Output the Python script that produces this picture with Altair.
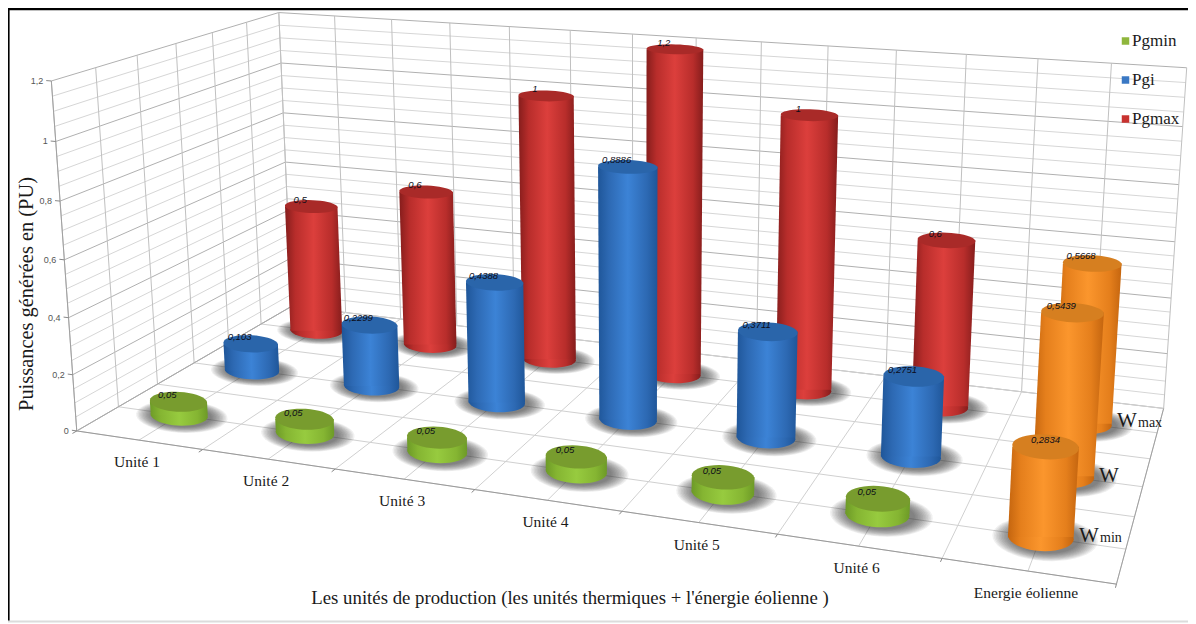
import math
import numpy as np
import pandas as pd
import altair as alt

categories = ["Unité 1", "Unité 2", "Unité 3", "Unité 4", "Unité 5", "Unité 6", "Energie éolienne"]
pgmin = [0.05, 0.05, 0.05, 0.05, 0.05, 0.05]
pgi = [0.103, 0.2299, 0.4388, 0.8886, 0.3711, 0.2751]
pgmax = [0.5, 0.6, 1.0, 1.2, 1.0, 0.6]
wind = [0.2834, 0.5439, 0.5668]
y_ticks = [0, 0.2, 0.4, 0.6, 0.8, 1, 1.2]
y_labels = ["0", "0,2", "0,4", "0,6", "0,8", "1", "1,2"]
legend_names = ["Pgmin", "Pgi", "Pgmax"]
legend_colors = ["#8fb63c", "#3a78c4", "#c8322f"]

# ---------- camera: box corners in chart space -> page pixels
ref_3d = [(0,0,0),(1,0,0),(2,0,0),(3,0,0),(4,0,0),(5,0,0),(6,0,0),(7,0,0),(7,3,0),(0,3,0),
          (0,0,1.2),(0,3,1.2),(7,3,1.2)]
ref_2d = [(77,431),(202,450),(336,471),(475,490),(622,511),(777,534),(942,557),(1116,585),(1164,408),(292,305),
          (52,79),(278,14),(1187,68)]
A, b = [], []
for (X_,Y_,Z_),(px,py) in zip(ref_3d, ref_2d):
    A.append([X_,Y_,Z_,1,0,0,0,0,-px*X_,-px*Y_,-px*Z_]); b.append(px)
    A.append([0,0,0,0,X_,Y_,Z_,1,-py*X_,-py*Y_,-py*Z_]); b.append(py)
sol = np.linalg.lstsq(np.array(A,float), np.array(b,float), rcond=None)[0]
P = np.append(sol,1.0).reshape(3,4)
def proj(u,v,z):
    q = P @ np.array([u,v,z,1.0])
    return float(q[0]/q[2]), float(q[1]/q[2])

XS = alt.Scale(domain=[8,1188], nice=False, zero=False)
YS = alt.Scale(domain=[624,8], nice=False, zero=False)
X = lambda f="x": alt.X(f"{f}:Q", scale=XS, axis=None)
Y = lambda f="y": alt.Y(f"{f}:Q", scale=YS, axis=None)

layers = []

frame = pd.DataFrame([
    dict(x=8,y=9,x2=1188,y2=9,c="#000000",w=2.4),
    dict(x=8.4,y=9,x2=8.4,y2=622,c="#000000",w=2.4),
    dict(x=8,y=621.5,x2=1188,y2=621.5,c="#dcdcdc",w=2),
])
def rules(df):
    return alt.Chart(df).mark_rule().encode(x=X(), y=Y(), x2=alt.X2("x2:Q"), y2=alt.Y2("y2:Q"),
        color=alt.Color("c:N", scale=None), strokeWidth=alt.StrokeWidth("w:Q", scale=None))

# ---------- grid
seg = []
def add(a,b,c,w=1):
    p,q = proj(*a),proj(*b)
    seg.append(dict(x=p[0],y=p[1],x2=q[0],y2=q[1],c=c,w=w))
MINOR,MAJOR,FLOOR = "#d6d6d6","#b0b0b0","#d0d0d0"
for k in range(0,25):
    z = k*0.05
    c = MAJOR if k%4==0 else MINOR
    add((0,0,z),(0,3,z),c); add((0,3,z),(7,3,z),c)
for k in range(0,15):
    u = k/2
    add((u,3,0),(u,3,1.2),"#c0c0c0"); add((u,0,0),(u,3,0),FLOOR)
for k in range(0,7):
    v = k/2
    add((0,v,0),(0,v,1.2),"#c0c0c0"); add((0,v,0),(7,v,0),FLOOR)
add((7,0,0),(7,3,0),"#a0a0a0"); add((0,0,0),(7,0,0),"#9a9a9a"); add((0,0,0),(0,3,0),"#a8a8a8")
add((0,0,0),(0,0,1.2),"#a0a0a0")
for u in range(0,8): add((u,0,0),(u,-0.05,0),"#888888")
for z in y_ticks: add((0,0,z),(-0.04,0,z),"#888888")
layers.append(rules(pd.DataFrame(seg)))

# ---------- cylinders
RV = 0.21
S = 50.0
def ellipse(u,v,z,k=1.0):
    RU = 0.235-0.006*u
    cx,cy = proj(u,v,z)
    pts = []
    for t in np.linspace(0,2*math.pi,40,endpoint=False):
        ax,ay = proj(u+k*RU*math.cos(t),v,z)
        bx,by = proj(u,v+k*RV*math.sin(t),z)
        pts.append((cx+(ax-cx)+0.1*(bx-cx), cy+0.45*(ay-cy)+(by-cy)))
    d = "M"+" L".join(f"{(a-cx)/S:.3f} {(b_-cy)/S:.3f}" for a,b_ in pts)+" Z"
    return cx,cy,d,min(a for a,_ in pts),max(a for a,_ in pts)
SZ = (2*S)**2
def grad(stops):
    return alt.Gradient(gradient="linear",x1=0,x2=1,y1=0,y2=0,
        stops=[alt.GradientStop(offset=o,color=c) for o,c in stops])
def paint(dk,md,lt):
    return grad([(0,dk),(0.18,md),(0.5,lt),(0.82,md),(1,dk)])
PAL = {
 "red":(paint("#851d1c","#b82d2b","#dc3f3c"),"#a92a28"),
 "blue":(paint("#1f5699","#2d69b3","#3c83d6"),"#2a65aa"),
 "green":(paint("#6d9a27","#85b532","#97cb3f"),"#789c2e"),
 "orange":(paint("#c4650f","#e57f1c","#fb962d"),"#d67f20"),
}
rows = [(2.5,pgmax,"red",wind[2]),(1.5,pgi,"blue",wind[1]),(0.5,pgmin,"green",wind[0])]

shadow = []
for v,vals,_,w in rows:
    for i,val in enumerate(list(vals)+[w]):
        for k in np.linspace(1.05,1.6,12):
            cx,cy,d,_a,_b = ellipse(i+0.5+0.025,v-0.01,0,float(k))
            shadow.append(dict(x=cx,y=cy,d=d))
layers.append(alt.Chart(pd.DataFrame(shadow)).mark_point(filled=True,color="#303030",opacity=0.075,strokeWidth=0).encode(
    x=X(),y=Y(),shape=alt.Shape("d:N",scale=None),size=alt.value(SZ)))

def sym(rows_,color):
    return alt.Chart(pd.DataFrame(rows_)).mark_point(filled=True,color=color,opacity=1,strokeWidth=0).encode(
        x=X(),y=Y(),shape=alt.Shape("d:N",scale=None),size=alt.value(SZ))

def cyl_layers(items,col):
    g,topc = PAL[col]
    bot,top,body = [],[],[]
    for u,v,z in items:
        c0 = ellipse(u,v,0); c1 = ellipse(u,v,z)
        bot.append(dict(x=c0[0],y=c0[1],d=c0[2]))
        top.append(dict(x=c1[0],y=c1[1],d=c1[2]))
        mx,my = (c0[0]+c1[0])/2,(c0[1]+c1[1])/2
        poly = [(c1[3],c1[1]),(c1[4],c1[1]),(c0[4],c0[1]),(c0[3],c0[1])]
        d = "M"+" L".join(f"{(a-mx)/S:.3f} {(b_-my)/S:.3f}" for a,b_ in poly)+" Z"
        body.append(dict(x=mx,y=my,d=d))
    return [sym(bot,g),sym(body,g),sym(top,topc)]

for v,vals,col,w in rows:
    layers += cyl_layers([(i+0.5,v,val) for i,val in enumerate(vals)],col)
    layers += cyl_layers([(6.5,v,w)],"orange")

# ---------- texts
def texts(df,size,font="Liberation Serif",color="#1a1a1a",align="center",baseline="middle",angle=0,italic=False,bold=False):
    kw = dict(fontSize=size,font=font,color=color,align=align,baseline=baseline,angle=angle)
    if italic: kw["fontStyle"]="italic"
    if bold: kw["fontWeight"]="bold"
    return alt.Chart(df).mark_text(**kw).encode(x=X(),y=Y(),text="t:N")

vals_lab = []
def fmt(x):
    s = f"{x:.4f}".rstrip("0").rstrip(".")
    return s.replace(".",",")
for v,vals,col,w in rows:
    for i,val in enumerate(vals):
        cx,cy = proj(i+0.5,v,val)
        vals_lab.append(dict(x=cx-11,y=cy-6.5,t=fmt(val)))
    cx,cy = proj(6.5,v,w)
    vals_lab.append(dict(x=cx-(11 if v>1 else 0),y=cy-7,t=fmt(w)))
layers.append(texts(pd.DataFrame(vals_lab),9.5,font="Liberation Sans",color="#0c0c18",italic=True))

yl = []
for z,t in zip(y_ticks,y_labels):
    a,b_ = proj(0,0,z)
    yl.append(dict(x=a-8,y=b_,t=t))
layers.append(texts(pd.DataFrame(yl),9,font="Liberation Sans",color="#555555",align="right"))

cl = []
for i,t in enumerate(categories):
    a,b_ = proj(i+0.5,0,0)
    cl.append(dict(x=a-2,y=b_+22,t=t))
layers.append(texts(pd.DataFrame(cl),15.5))

layers.append(texts(pd.DataFrame([dict(x=570,y=598,t="Les unités de production  (les unités thermiques + l'énergie éolienne )")]),18.8))
layers.append(texts(pd.DataFrame([dict(x=27,y=294,t="Puissances générées en (PU)")]),20.4,angle=270))

lg_y = [41,80,119]
lg = pd.DataFrame(dict(x=[1125.5]*3,y=lg_y,c=legend_colors))
layers.append(alt.Chart(lg).mark_square(filled=True,opacity=1,size=56,strokeWidth=0).encode(
    x=X(),y=Y(),color=alt.Color("c:N",scale=None)))
layers.append(texts(pd.DataFrame(dict(x=[1132]*3,y=lg_y,t=legend_names)),17,align="left"))

layers.append(texts(pd.DataFrame(dict(x=[1117,1099,1079],y=[427,482,542],t=["W","W","W"])),21,align="left",baseline="alphabetic"))
layers.append(texts(pd.DataFrame(dict(x=[1138,1100],y=[427,542],t=["max","min"])),14,align="left",baseline="alphabetic"))

layers.append(rules(frame))

chart = alt.layer(*layers).properties(width=1180,height=616,padding=0,
    autosize=alt.AutoSizeParams(type="none"),background="#ffffff").configure_view(stroke=None)
chart.save("out.html", embed_options={"renderer":"svg","actions":False})
